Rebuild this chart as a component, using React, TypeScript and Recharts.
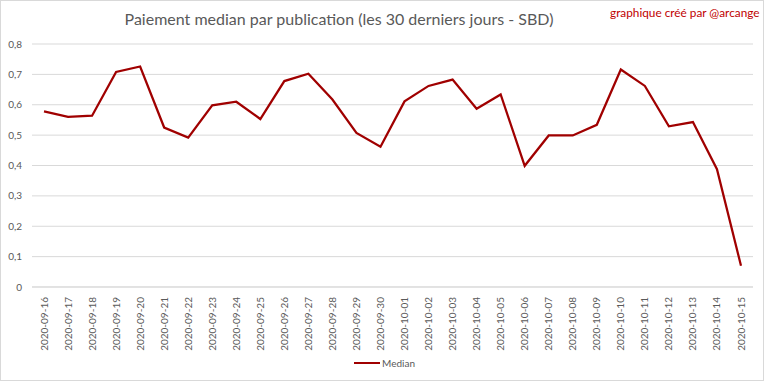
import React from 'react';
import { LineChart, Line, XAxis, YAxis, CartesianGrid } from 'recharts';

const dates = [
  '2020-09-16', '2020-09-17', '2020-09-18', '2020-09-19', '2020-09-20',
  '2020-09-21', '2020-09-22', '2020-09-23', '2020-09-24', '2020-09-25',
  '2020-09-26', '2020-09-27', '2020-09-28', '2020-09-29', '2020-09-30',
  '2020-10-01', '2020-10-02', '2020-10-03', '2020-10-04', '2020-10-05',
  '2020-10-06', '2020-10-07', '2020-10-08', '2020-10-09', '2020-10-10',
  '2020-10-11', '2020-10-12', '2020-10-13', '2020-10-14', '2020-10-15',
];

const medianValues = [
  0.578, 0.56, 0.564, 0.708, 0.726,
  0.525, 0.492, 0.598, 0.61, 0.553,
  0.678, 0.702, 0.617, 0.507, 0.462,
  0.611, 0.662, 0.683, 0.587, 0.634,
  0.399, 0.499, 0.499, 0.534, 0.716,
  0.662, 0.529, 0.543, 0.388, 0.07,
];

const yTicks = [0, 0.1, 0.2, 0.3, 0.4, 0.5, 0.6, 0.7, 0.8];

const titleText = 'Paiement median par publication (les 30 derniers jours - SBD)';
const creditText = 'graphique créé par @arcange';
const seriesName = 'Median';

const data = dates.map((d, i) => ({ date: d, median: medianValues[i] }));

const FONT = 'Lato, "Open Sans", sans-serif';
const GRAY = '#595959';
const RED = '#a00000';

const XTick = (props: any) => {
  const { x, y, payload } = props;
  return (
    <text
      x={x}
      y={y}
      transform={`rotate(-90, ${x}, ${y})`}
      textAnchor="end"
      dy="0.35em"
      fontSize={10}
      fontFamily={FONT}
      fill={GRAY}
    >
      {payload.value}
    </text>
  );
};

export default function App() {
  return (
    <div
      style={{
        position: 'absolute',
        left: 0,
        top: 0,
        width: 768,
        height: 384,
        background: '#fff',
        fontFamily: FONT,
      }}
    >
      <div
        style={{
          position: 'absolute',
          left: 0,
          top: 0,
          width: 764,
          height: 381,
          border: '1px solid #d9d9d9',
          boxSizing: 'border-box',
        }}
      />
      <LineChart
        width={768}
        height={384}
        data={data}
        margin={{ top: 44, right: 15, bottom: 37, left: 0 }}
      >
        <CartesianGrid vertical={false} stroke="#d9d9d9" strokeWidth={1} />
        <XAxis
          dataKey="date"
          interval={0}
          height={60}
          padding={{ left: 12, right: 12 }}
          tick={<XTick />}
          tickLine={false}
          axisLine={{ stroke: '#d9d9d9' }}
          tickMargin={4}
        />
        <YAxis
          width={32}
          domain={[0, 0.8]}
          ticks={yTicks}
          tickLine={false}
          axisLine={false}
          tickMargin={4}
          tick={{ fontSize: 10, fill: GRAY, fontFamily: FONT }}
          tickFormatter={(v: number) => String(Math.round(v * 10) / 10).replace('.', ',')}
        />
        <Line
          type="linear"
          dataKey="median"
          name={seriesName}
          stroke={RED}
          strokeWidth={2.25}
          dot={false}
          isAnimationActive={false}
        />
      </LineChart>
      <div
        style={{
          position: 'absolute',
          left: 0,
          width: 678,
          top: 9,
          textAlign: 'center',
          fontSize: 16,
          color: GRAY,
          whiteSpace: 'nowrap',
        }}
      >
        {titleText}
      </div>
      <div
        style={{
          position: 'absolute',
          left: 610,
          top: 5,
          fontSize: 11.8,
          color: '#c00000',
          whiteSpace: 'nowrap',
        }}
      >
        {creditText}
      </div>
      <div
        style={{
          position: 'absolute',
          left: 354,
          top: 357,
          display: 'flex',
          alignItems: 'center',
          fontSize: 10,
          color: GRAY,
        }}
      >
        <span style={{ display: 'inline-block', width: 26, height: 2, background: RED, marginRight: 2 }} />
        <span>{seriesName}</span>
      </div>
    </div>
  );
}
